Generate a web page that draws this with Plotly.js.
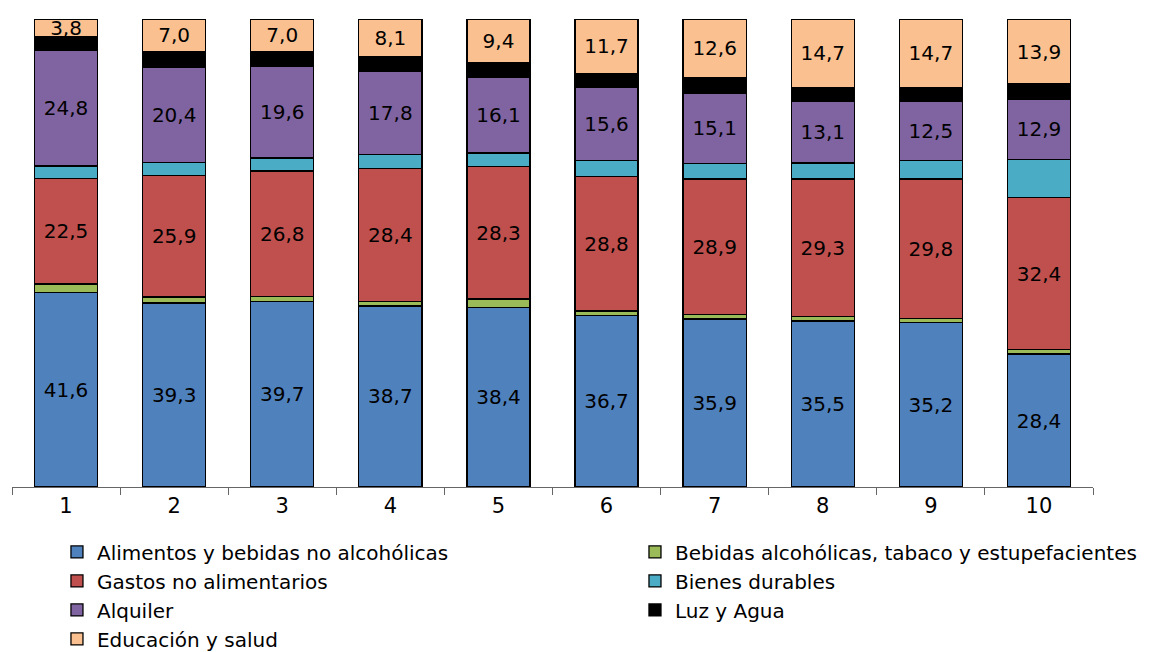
<!DOCTYPE html>
<html>
<head>
<meta charset="utf-8">
<script src="https://cdn.plot.ly/plotly-3.0.1.min.js"></script>
<style>html,body{margin:0;padding:0;background:#fff;}#chart{width:1156px;height:652px;}</style>
</head>
<body>
<div id="chart"></div>
<script>
const deciles = ["1","2","3","4","5","6","7","8","9","10"];
const alimentos = [41.6, 39.3, 39.7, 38.7, 38.4, 36.7, 35.9, 35.5, 35.2, 28.4];
const bebidas   = [1.8, 1.3, 1.0, 1.0, 1.8, 0.9, 1.0, 1.0, 0.8, 1.0];
const gastos    = [22.5, 25.9, 26.8, 28.4, 28.3, 28.8, 28.9, 29.3, 29.8, 32.4];
const bienes    = [2.7, 2.8, 2.8, 2.9, 2.9, 3.4, 3.3, 3.4, 4.0, 8.2];
const alquiler  = [24.8, 20.4, 19.6, 17.8, 16.1, 15.6, 15.1, 13.1, 12.5, 12.9];
const luzAgua   = [2.8, 3.3, 3.1, 3.1, 3.1, 2.9, 3.2, 3.0, 3.0, 3.2];
const educacion = [3.8, 7.0, 7.0, 8.1, 9.4, 11.7, 12.6, 14.7, 14.7, 13.9];

const FONT = "DejaVu Sans, Noto Sans, sans-serif";
function mk(name, y, color, labelled, legendId, rank) {
  const t = {
    type: "bar", name: name, x: deciles, y: y,
    marker: {color: color, line: {color: "#000000", width: 1.3}},
    legend: legendId, legendrank: rank,
    hoverinfo: "name+y"
  };
  if (labelled) {
    t.texttemplate = "%{y:.1f}";
    t.textposition = "inside";
    t.insidetextanchor = "middle";
    t.constraintext = "none";
    t.textfont = {family: FONT, size: 20, color: "#000000"};
  } else {
    t.textposition = "none";
  }
  return t;
}
const data = [
  mk("Alimentos y bebidas no alcohólicas", alimentos, "#4F81BD", true, "legend", 1),
  mk("Bebidas alcohólicas, tabaco y estupefacientes", bebidas, "#9BBB59", false, "legend2", 1),
  mk("Gastos no alimentarios", gastos, "#C0504D", true, "legend", 2),
  mk("Bienes durables", bienes, "#4BACC6", false, "legend2", 2),
  mk("Alquiler", alquiler, "#8064A2", true, "legend", 3),
  mk("Luz y Agua", luzAgua, "#000000", false, "legend2", 3),
  mk("Educación y salud", educacion, "#FAC090", true, "legend", 4)
];
const legendCommon = {
  orientation: "v", traceorder: "normal",
  xanchor: "left", yanchor: "top", y: -0.097,
  itemwidth: 30,
  font: {family: FONT, size: 20, color: "#000000"},
  bgcolor: "rgba(0,0,0,0)", borderwidth: 0
};
const layout = {
  width: 1156, height: 652,
  margin: {l: 12, r: 63, t: 19, b: 165, autoexpand: false},
  barmode: "stack",
  bargap: 0.417,
  separators: ",.",
  paper_bgcolor: "#ffffff", plot_bgcolor: "#ffffff",
  font: {family: FONT, size: 20, color: "#000000"},
  xaxis: {
    type: "category",
    showline: true, linecolor: "#666666", linewidth: 1,
    ticks: "outside", tickson: "boundaries", ticklen: 7, tickcolor: "#666666", tickwidth: 1,
    tickfont: {family: FONT, size: 21, color: "#000000"},
    showgrid: false, zeroline: false, fixedrange: true
  },
  yaxis: {range: [0, 100], visible: false, showgrid: false, zeroline: false, fixedrange: true},
  showlegend: true,
  legend: Object.assign({}, legendCommon, {x: 0.0416}),
  legend2: Object.assign({}, legendCommon, {x: 0.5763})
};
Plotly.newPlot("chart", data, layout, {displayModeBar: false, staticPlot: true});
</script>
</body>
</html>
